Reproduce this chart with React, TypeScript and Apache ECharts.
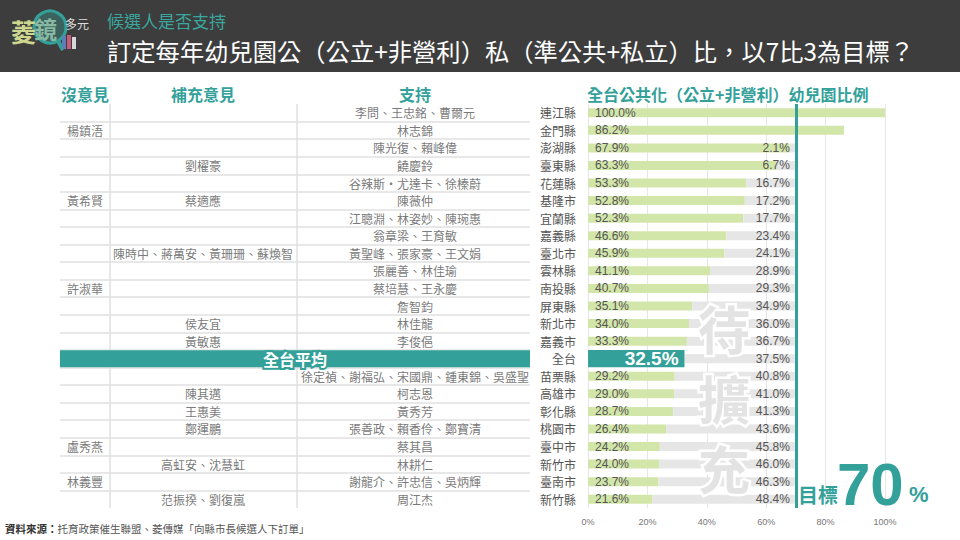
import React, { useEffect, useRef } from "react";
import * as echarts from "echarts";

const counties = ["連江縣", "金門縣", "澎湖縣", "臺東縣", "花蓮縣", "基隆市", "宜蘭縣", "嘉義縣", "臺北市", "雲林縣", "南投縣", "屏東縣", "新北市", "嘉義市", "全台", "苗栗縣", "高雄市", "彰化縣", "桃園市", "臺中市", "新竹市", "臺南市", "新竹縣"];
const publicShare = [100.0, 86.2, 67.9, 63.3, 53.3, 52.8, 52.3, 46.6, 45.9, 41.1, 40.7, 35.1, 34.0, 33.3, 32.5, 29.2, 29.0, 28.7, 26.4, 24.2, 24.0, 23.7, 21.6];
const gapToTarget: (number | null)[] = [null, null, 2.1, 6.7, 16.7, 17.2, 17.7, 23.4, 24.1, 28.9, 29.3, 34.9, 36.0, 36.7, 37.5, 40.8, 41.0, 41.3, 43.6, 45.8, 46.0, 46.3, 48.4];
const noOpinion = ["", "楊鎮浯", "", "", "", "黃希賢", "", "", "", "", "許淑華", "", "", "", "", "", "", "", "", "盧秀燕", "", "林義豐", ""];
const supplementary = ["", "", "", "劉櫂豪", "", "蔡適應", "", "", "陳時中、蔣萬安、黃珊珊、蘇煥智", "", "", "", "侯友宜", "黃敏惠", "", "", "陳其邁", "王惠美", "鄭運鵬", "", "高虹安、沈慧虹", "", "范振揆、劉復嵐"];
const support = ["李問、王忠銘、曹爾元", "林志錦", "陳光復、賴峰偉", "饒慶鈴", "谷辣斯·尤達卡、徐榛蔚", "陳薇仲", "江聰淵、林姿妙、陳琬惠", "翁章梁、王育敏", "黃聖峰、張家豪、王文娟", "張麗善、林佳瑜", "蔡培慧、王永慶", "詹智鈞", "林佳龍", "李俊俋", "", "徐定禎、謝福弘、宋國鼎、鍾東錦、吳盛聖", "柯志恩", "黃秀芳", "張善政、賴香伶、鄭寶清", "蔡其昌", "林耕仁", "謝龍介、許忠信、吳炳輝", "周江杰"];
const nationalLabel = "全台";
const nationalRowTitle = "全台平均";
const targetShare = 70;
const xMin = 0;
const xMax = 100;
const xInterval = 20;

const TEAL = "#33a19a";
const GREEN = "#d3e6aa";
const GRAY = "#e6e6e6";
const FONT = '"Noto Sans CJK TC", "Noto Sans", sans-serif';
const NUMFONT = '"Liberation Sans", "Noto Sans", sans-serif';

export default function App() {
  const ref = useRef<HTMLDivElement>(null);

  useEffect(() => {
    if (!ref.current) return;
    const chart = echarts.init(ref.current, undefined, { renderer: "svg" });

    const colCenters = [25, 143, 355];
    const tableCols = [noOpinion, supplementary, support];
    const cellData: any[] = [];
    tableCols.forEach((col, c) =>
      col.forEach((name, i) => {
        if (name) cellData.push({ name, value: [colCenters[c], i] });
      })
    );

    const isNat = (i: number) => counties[i] === nationalLabel;
    const wm = (ch: string, y: number) => ({
      type: "text",
      x: 724,
      y,
      z: 10,
      style: { text: ch, fontSize: 52, fontWeight: "bold", fill: "#e3e3e3", stroke: "#ffffff", lineWidth: 5, fontFamily: FONT, align: "center", verticalAlign: "middle" },
    });

    const option: any = {
      animation: false,
      backgroundColor: "#ffffff",
      textStyle: { fontFamily: FONT },
      grid: [
        { left: 588, top: 104, width: 297, height: 404 },
        { left: 60, top: 104, width: 470, height: 404 },
      ],
      xAxis: [
        {
          type: "value",
          gridIndex: 0,
          min: xMin,
          max: xMax,
          interval: xInterval,
          axisLine: { show: false },
          axisTick: { show: false },
          axisLabel: { formatter: "{value}%", fontSize: 9, color: "#777", margin: 9, fontFamily: NUMFONT },
          splitLine: { lineStyle: { color: "#e6e6e6", width: 1 } },
        },
        { type: "value", gridIndex: 1, min: 0, max: 470, show: false },
      ],
      yAxis: [
        {
          type: "category",
          gridIndex: 0,
          data: counties,
          inverse: true,
          axisLine: { show: false },
          axisTick: { show: false },
          axisLabel: { color: "#555", fontSize: 12, margin: 12, fontFamily: FONT },
          splitLine: { show: false },
        },
        {
          type: "category",
          gridIndex: 1,
          data: counties,
          inverse: true,
          axisLine: { show: false },
          axisTick: { show: false },
          axisLabel: { show: false },
          splitLine: { show: true, showMinLine: false, showMaxLine: false, lineStyle: { color: "#e0e0e0", width: 1.5 } },
        },
      ],
      series: [
        {
          type: "bar",
          name: "public",
          xAxisIndex: 0,
          yAxisIndex: 0,
          stack: "share",
          barWidth: 9,
          itemStyle: { color: GREEN },
          data: publicShare.map((v, i) =>
            isNat(i) ? { value: v, itemStyle: { color: "rgba(0,0,0,0)" }, label: { show: false } } : v
          ),
          label: {
            show: true,
            position: "insideLeft",
            distance: 7,
            color: "#555",
            fontSize: 12,
            fontFamily: NUMFONT,
            formatter: (p: any) => Number(p.value).toFixed(1) + "%",
          },
          markLine: {
            silent: true,
            symbol: "none",
            z: 5,
            label: { show: false },
            lineStyle: { color: TEAL, width: 3, type: "solid" },
            data: [{ xAxis: targetShare }],
          },
        },
        {
          type: "bar",
          name: "gap",
          xAxisIndex: 0,
          yAxisIndex: 0,
          stack: "share",
          barWidth: 9,
          itemStyle: { color: GRAY },
          data: gapToTarget.map((v) => (v == null ? "-" : v)),
          label: {
            show: true,
            position: "insideRight",
            distance: 6,
            color: "#555",
            fontSize: 12,
            fontFamily: NUMFONT,
            formatter: (p: any) => Number(p.value).toFixed(1) + "%",
          },
        },
        {
          type: "pictorialBar",
          name: "national",
          xAxisIndex: 0,
          yAxisIndex: 0,
          symbol: "rect",
          symbolSize: ["100%", 17],
          symbolPosition: "start",
          barWidth: 17,
          itemStyle: { color: TEAL },
          z: 4,
          data: publicShare.map((v, i) => (isNat(i) ? v : "-")),
          label: {
            show: true,
            position: "insideRight",
            distance: 6,
            color: "#fff",
            fontSize: 19,
            fontWeight: "bold",
            fontFamily: NUMFONT,
            textBorderColor: TEAL,
            textBorderWidth: 4,
            formatter: (p: any) => Number(p.value).toFixed(1) + "%",
          },
        },
        {
          type: "scatter",
          name: "cells",
          xAxisIndex: 1,
          yAxisIndex: 1,
          symbolSize: 1,
          z: 1,
          silent: true,
          itemStyle: { color: "rgba(0,0,0,0)" },
          data: cellData,
          label: { show: true, position: "inside", formatter: "{b}", color: "#555", fontSize: 12, fontFamily: FONT },
          markLine: {
            silent: true,
            symbol: "none",
            z: 1,
            label: { show: false },
            lineStyle: { color: "#e0e0e0", width: 1.5, type: "solid" },
            data: [{ xAxis: 50 }, { xAxis: 237 }],
          },
        },
        {
          type: "bar",
          name: "nationalRow",
          xAxisIndex: 1,
          yAxisIndex: 1,
          barWidth: 17,
          z: 3,
          itemStyle: { color: TEAL },
          data: counties.map((c) => (c === nationalLabel ? 470 : "-")),
          label: {
            show: true,
            position: "inside",
            formatter: nationalRowTitle,
            color: "#fff",
            fontSize: 16,
            fontWeight: "bold",
            fontFamily: FONT,
            textBorderColor: TEAL,
            textBorderWidth: 4,
          },
        },
      ],
      graphic: [
        { type: "rect", shape: { x: 0, y: 0, width: 960, height: 72 }, style: { fill: "#3d3d3d" }, z: 0 },
        // logo
        { type: "circle", shape: { cx: 50, cy: 27, r: 16 }, style: { fill: "rgba(60,170,160,0.35)", stroke: TEAL, lineWidth: 3 }, z: 1 },
        { type: "line", shape: { x1: 58, y1: 41, x2: 63, y2: 50 }, style: { stroke: TEAL, lineWidth: 4 }, z: 1 },
        { type: "text", x: 11, y: 31, style: { text: "菱", fontSize: 25, fontWeight: "bold", fill: "#cdd88e", fontFamily: FONT, verticalAlign: "middle" }, z: 2 },
        { type: "text", x: 34, y: 28, style: { text: "鏡", fontSize: 23, fontWeight: "bold", fill: "#88b9a2", fontFamily: FONT, verticalAlign: "middle" }, z: 2 },
        { type: "text", x: 65, y: 23, style: { text: "多元", fontSize: 12, fill: "#dddddd", fontFamily: FONT, verticalAlign: "middle" }, z: 2 },
        { type: "rect", shape: { x: 62, y: 36, width: 4, height: 13 }, style: { fill: "#5c7fb8" }, z: 2 },
        { type: "rect", shape: { x: 67, y: 35, width: 4, height: 14 }, style: { fill: "#c45b7a" }, z: 2 },
        { type: "rect", shape: { x: 72, y: 37, width: 4, height: 12 }, style: { fill: "#d8d8d8" }, z: 2 },
        // header texts
        { type: "text", x: 107, y: 20, style: { text: "候選人是否支持", fontSize: 17, fill: "#3aa79e", fontFamily: FONT, verticalAlign: "middle" }, z: 2 },
        { type: "text", x: 107, y: 50, style: { text: "訂定每年幼兒園公（公立+非營利）私（準公共+私立）比，以7比3為目標？", fontSize: 24.3, fill: "#ffffff", fontFamily: FONT, verticalAlign: "middle" }, z: 2 },
        // column headers
        { type: "text", x: 85, y: 94, style: { text: "沒意見", fontSize: 16, fontWeight: "bold", fill: TEAL, fontFamily: FONT, align: "center", verticalAlign: "middle" } },
        { type: "text", x: 203, y: 94, style: { text: "補充意見", fontSize: 16, fontWeight: "bold", fill: TEAL, fontFamily: FONT, align: "center", verticalAlign: "middle" } },
        { type: "text", x: 415, y: 94, style: { text: "支持", fontSize: 16, fontWeight: "bold", fill: TEAL, fontFamily: FONT, align: "center", verticalAlign: "middle" } },
        { type: "text", x: 587, y: 94, style: { text: "全台公共化（公立+非營利）幼兒園比例", fontSize: 16, fontWeight: "bold", fill: TEAL, fontFamily: FONT, verticalAlign: "middle" } },
        // watermark
        wm("待", 327),
        wm("擴", 397),
        wm("充", 467),
        // target
        { type: "text", x: 798, y: 494, z: 10, style: { text: "目標", fontSize: 20, fontWeight: "bold", fill: TEAL, fontFamily: FONT, verticalAlign: "middle" } },
        { type: "text", x: 837, y: 484, z: 10, style: { text: String(targetShare), fontSize: 60, fontWeight: "bold", fill: TEAL, fontFamily: NUMFONT, verticalAlign: "middle" } },
        { type: "text", x: 909, y: 494, z: 10, style: { text: "%", fontSize: 22, fontWeight: "bold", fill: TEAL, fontFamily: NUMFONT, verticalAlign: "middle" } },
        // footer
        {
          type: "text",
          x: 5,
          y: 528,
          style: {
            text: "{b|資料來源：}托育政策催生聯盟、菱傳媒「向縣市長候選人下訂單」",
            fontSize: 10.5,
            fill: "#555",
            fontFamily: FONT,
            verticalAlign: "middle",
            rich: { b: { fontSize: 10.5, fontWeight: "bold", fill: "#333", fontFamily: FONT } },
          },
        },
      ],
    };

    chart.setOption(option);
    return () => chart.dispose();
  }, []);

  return <div ref={ref} style={{ position: "absolute", left: 0, top: 0, width: 960, height: 540 }} />;
}
